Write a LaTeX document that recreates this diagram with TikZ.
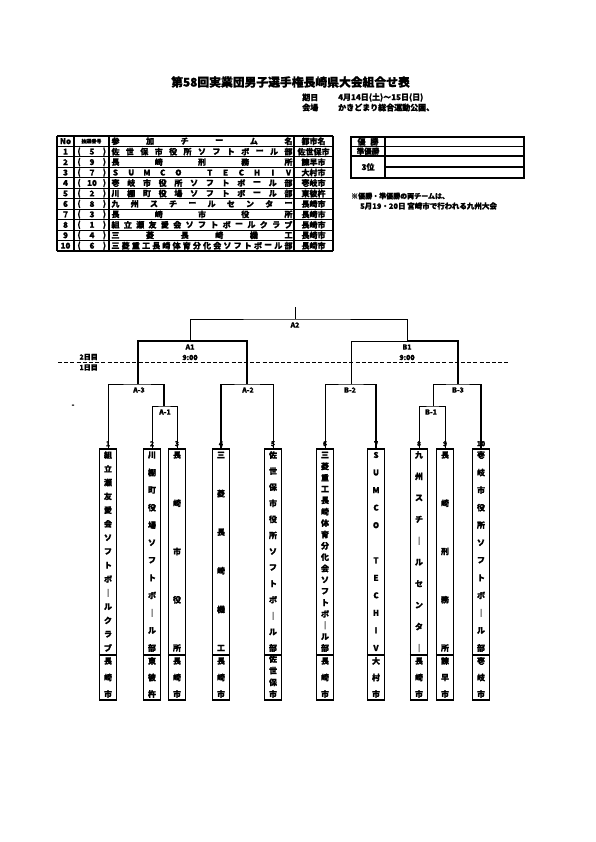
\documentclass[tikz,border=0pt]{standalone}
\usepackage{fontspec}
\setmainfont{Noto Sans CJK JP}[BoldFeatures={FakeBold=1.2}]
\usetikzlibrary{positioning}
\tikzset{
  bar/.style={line width=0.6pt},
  winbar/.style={line width=1.7pt},
  gridline/.style={line width=1.1pt},
  dayline/.style={line width=0.9pt,dash pattern=on 4pt off 2.2pt},
  teambox/.style={draw,line width=1.5pt,minimum width=17pt,minimum height=251pt,inner sep=0pt,anchor=north},
  boxchar/.style={font=\bfseries\fontsize{8}{8}\selectfont,inner sep=0pt},
  cellchar/.style={font=\bfseries\fontsize{8}{8}\selectfont,inner sep=0pt},
  lab/.style={font=\bfseries\fontsize{7}{7}\selectfont,inner sep=0pt},
  numlab/.style={lab,above=1.5pt},
  info/.style={font=\bfseries\fontsize{8}{8}\selectfont,inner sep=0pt,anchor=west}
}
% characters spread down a team box
\newcommand{\vspread}[6]{%
  \foreach \ch [count=\k] in {#6}{%
    \node[boxchar] (#1-\k) at (#2,{#3+(\k-1)*(#4-#3)/(#5-1)}) {\ch};}}
% characters spread across a table cell
\newcommand{\hspread}[6]{%
  \foreach \ch [count=\k] in {#6}{%
    \node[cellchar] (#1-\k) at ({#2+(\k-1)*(#3-#2)/(#5-1)},#4) {\ch};}}
% one row of the entry table
\newcommand{\tabrow}[5]{%
  \pgfmathsetmacro{\ry}{136+10.45*(#1+0.5)}
  \node[cellchar] (no#1) at (65.5,\ry) {#1};
  \node[cellchar] (pl#1) at (79,\ry) {(};
  \node[cellchar] (dn#1) at (92,\ry) {#2};
  \node[cellchar] (pr#1) at (104.5,\ry) {)};
  \hspread{tm#1}{115.5}{288.5}{\ry}{#3}{#4}
  \node[cellchar] (ct#1) at (313.5,\ry) {#5};
}

\begin{document}
\begin{tikzpicture}[x=1pt,y=-1pt]
  \useasboundingbox[fill=white] (0,0) rectangle (595,842);
  % title
  \node[font=\bfseries\fontsize{11.8}{11.8}\selectfont,inner sep=0pt] (title) at (290.5,82) {第58回実業団男子選手権長崎県大会組合せ表};
  \node[info] (dayh) at (302,97.5) {期日};
  \node[info] (day) at (338,97.5) {4月14日(土)～15日(日)};
  \node[info] (placeh) at (302,107.5) {会場};
  \node[info] (place) at (338,107.5) {かきどまり総合運動公園、};

  % entry table
  \foreach \r in {0,...,11}
    \draw[gridline] (57,{136+\r*10.45}) -- (333,{136+\r*10.45});
  \foreach \c in {57,74,109,294,333}
    \draw[gridline] (\c,136) -- (\c,251.4);
  \node[cellchar] (hno) at (65.5,141.2) {No};
  \node[cellchar,font=\bfseries\fontsize{5}{5}\selectfont] (hdn) at (91.5,141.2) {抽選番号};
  \hspread{htm}{115.5}{288.5}{141.2}{6}{参,加,チ,ー,ム,名}
  \node[cellchar] (hct) at (313.5,141.2) {都市名};
  \tabrow{1}{5}{13}{佐,世,保,市,役,所,ソ,フ,ト,ボ,ー,ル,部}{佐世保市}
  \tabrow{2}{9}{5}{長,崎,刑,務,所}{諫早市}
  \tabrow{3}{7}{12}{S,U,M,C,O,{},T,E,C,H,I,V}{大村市}
  \tabrow{4}{10}{12}{壱,岐,市,役,所,ソ,フ,ト,ボ,ー,ル,部}{壱岐市}
  \tabrow{5}{2}{12}{川,棚,町,役,場,ソ,フ,ト,ボ,ー,ル,部}{東彼杵}
  \tabrow{6}{8}{10}{九,州,ス,チ,ー,ル,セ,ン,タ,ー}{長崎市}
  \tabrow{7}{3}{5}{長,崎,市,役,所}{長崎市}
  \tabrow{8}{1}{15}{組,立,瀬,友,愛,会,ソ,フ,ト,ボ,ー,ル,ク,ラ,ブ}{長崎市}
  \tabrow{9}{4}{6}{三,菱,長,崎,機,工}{長崎市}
  \tabrow{10}{6}{18}{三,菱,重,工,長,崎,体,育,分,化,会,ソ,フ,ト,ボ,ー,ル,部}{長崎市}

  % result box
  \draw[gridline] (351,137) rectangle (524,178);
  \draw[gridline] (385,137) -- (385,178);
  \draw[gridline] (351,146.5) -- (524,146.5);
  \draw[gridline] (351,156) -- (524,156);
  \draw[gridline] (385,167) -- (524,167);
  \node[cellchar] (win) at (368,141.8) {優\hspace{0.6em}勝};
  \node[cellchar,font=\bfseries\fontsize{7.5}{7.5}\selectfont] (second) at (368,151.2) {準優勝};
  \node[cellchar] (third) at (368,167) {3位};
  \node[info,font=\bfseries\fontsize{7}{7}\selectfont] (note1) at (351,196) {※優勝・準優勝の両チームは、};
  \node[info,font=\bfseries\fontsize{7.5}{7.5}\selectfont] (note2) at (360,206) {5月19・20日 宮崎市で行われる九州大会};

  % days
  \draw[dayline] (58,362) -- (508,362);
  \node[lab,anchor=east] (day2) at (98,357) {2日目};
  \node[lab,anchor=east] (day1) at (98,367.5) {1日目};
  \node[lab] (dot) at (73,406) {-};

  % team boxes
  \node[teambox] (t1) at (108,448) {};
  \node[teambox] (t2) at (152,448) {};
  \node[teambox] (t3) at (177,448) {};
  \node[teambox] (t4) at (221,448) {};
  \node[teambox] (t5) at (273,448) {};
  \node[teambox] (t6) at (325,448) {};
  \node[teambox] (t7) at (376,448) {};
  \node[teambox] (t8) at (419,448) {};
  \node[teambox] (t9) at (445,448) {};
  \node[teambox] (t10) at (481,448) {};
  \coordinate (cityline) at (0,655);
  \foreach \t in {1,...,10}{
    \draw[line width=1.5pt] (t\t.west |- cityline) -- (t\t.east |- cityline);
    \node[numlab] (n\t) at (t\t.north) {\t};
  }
  \vspread{c1}{108}{455}{648}{15}{組,立,瀬,友,愛,会,ソ,フ,ト,ボ,｜,ル,ク,ラ,ブ}
  \vspread{c2}{152}{455}{648}{12}{川,棚,町,役,場,ソ,フ,ト,ボ,｜,ル,部}
  \vspread{c3}{177}{455}{648}{5}{長,崎,市,役,所}
  \vspread{c4}{221}{455}{648}{6}{三,菱,長,崎,機,工}
  \vspread{c5}{273}{455}{648}{13}{佐,世,保,市,役,所,ソ,フ,ト,ボ,｜,ル,部}
  \vspread{c6}{325}{455}{648}{18}{三,菱,重,工,長,崎,体,育,分,化,会,ソ,フ,ト,ボ,｜,ル,部}
  \vspread{c7}{376}{455}{648}{12}{S,U,M,C,O,{},T,E,C,H,I,V}
  \vspread{c8}{419}{455}{648}{10}{九,州,ス,チ,｜,ル,セ,ン,タ,｜}
  \vspread{c9}{445}{455}{648}{5}{長,崎,刑,務,所}
  \vspread{c10}{481}{455}{648}{12}{壱,岐,市,役,所,ソ,フ,ト,ボ,｜,ル,部}
  \vspread{d1}{108}{661}{694}{3}{長,崎,市}
  \vspread{d2}{152}{661}{694}{3}{東,彼,杵}
  \vspread{d3}{177}{661}{694}{3}{長,崎,市}
  \vspread{d4}{221}{661}{694}{3}{長,崎,市}
  \vspread{d5}{273}{659}{694}{4}{佐,世,保,市}
  \vspread{d6}{325}{661}{694}{3}{長,崎,市}
  \vspread{d7}{376}{661}{694}{3}{大,村,市}
  \vspread{d8}{419}{661}{694}{3}{長,崎,市}
  \vspread{d9}{445}{661}{694}{3}{諫,早,市}
  \vspread{d10}{481}{661}{694}{3}{壱,岐,市}

  % bracket
  \coordinate (top) at (295,307);
  \coordinate (mA2) at (295,319);
  \coordinate (mA1) at (190,341);
  \coordinate (mB1) at (407,341);
  \coordinate (mA3) at (138,384);
  \coordinate (mAb) at (247,384);
  \coordinate (mB2) at (351,384);
  \coordinate (mB3) at (458,384);
  \coordinate (mAa) at (164,406);
  \coordinate (mBa) at (433,406);
  \draw[bar] (top) -- (mA2);
  \draw[bar] (mA1) |- (mA2) -| (mB1);
  \draw[winbar] (mA3) |- (mA1) -| (mAb);
  \draw[bar] (mB2) |- (mB1);
  \draw[winbar] (mB1) -| (mB3);
  \draw[bar] (t1.north) |- (mA3) -| (mAa);
  \draw[winbar] (mAa |- mA3) -- (mAa);
  \draw[bar] (t2.north) |- (mAa) -| (t3.north);
  \draw[bar] (t4.north) |- (mAb) -| (t5.north);
  \draw[winbar] (t4.north |- mAb) -- (t4.north);
  \draw[bar] (t6.north) |- (mB2) -| (t7.north);
  \draw[winbar] (t7.north |- mB2) -- (t7.north);
  \draw[bar] (mBa) |- (mB3) -| (t10.north);
  \draw[winbar] (t10.north |- mB3) -- (t10.north);
  \draw[bar] (t8.north) |- (mBa) -| (t9.north);
  % match labels
  \node[lab] (lA2) at (295,325) {A2};
  \node[lab] (lA1) at (190,347) {A1};
  \node[lab] (tA1) at (190,357.5) {9:00};
  \node[lab] (lB1) at (407,347) {B1};
  \node[lab] (tB1) at (407,357.5) {9:00};
  \node[lab] (lA3) at (139,390) {A-3};
  \node[lab] (lAb) at (248,390) {A-2};
  \node[lab] (lB2) at (350,390) {B-2};
  \node[lab] (lB3) at (458,390) {B-3};
  \node[lab] (lAa) at (165,412) {A-1};
  \node[lab] (lBa) at (431,412) {B-1};
\end{tikzpicture}
\end{document}
